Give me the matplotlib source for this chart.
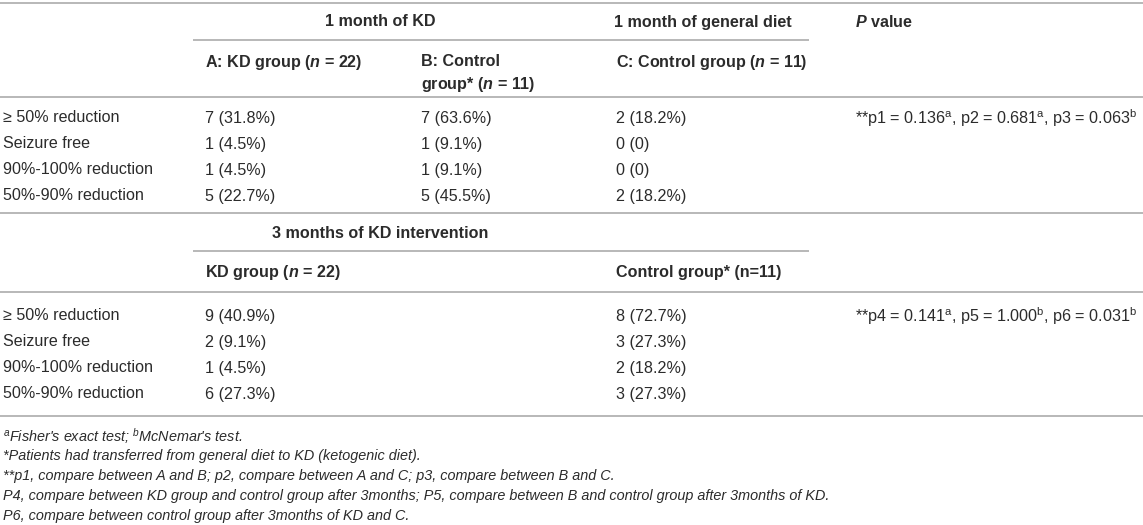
import matplotlib
matplotlib.use("Agg")
import matplotlib.pyplot as plt

plt.rcParams['font.family'] = ['Liberation Sans', 'DejaVu Sans']
plt.rcParams['mathtext.fontset'] = 'custom'
plt.rcParams['mathtext.rm'] = 'Liberation Sans'
plt.rcParams['mathtext.it'] = 'Liberation Sans:italic'
plt.rcParams['mathtext.bf'] = 'Liberation Sans:bold'
plt.rcParams['mathtext.bfit'] = 'Liberation Sans:italic:bold'

# Table content
row_labels = ["≥ 50% reduction", "Seizure free", "90%-100% reduction", "50%-90% reduction"]
kd1_a = ["7 (31.8%)", "1 (4.5%)", "1 (4.5%)", "5 (22.7%)"]
kd1_b = ["7 (63.6%)", "1 (9.1%)", "1 (9.1%)", "5 (45.5%)"]
gen1_c = ["2 (18.2%)", "0 (0)", "0 (0)", "2 (18.2%)"]
kd3_kd = ["9 (40.9%)", "2 (9.1%)", "1 (4.5%)", "6 (27.3%)"]
kd3_ctrl = ["8 (72.7%)", "3 (27.3%)", "2 (18.2%)", "3 (27.3%)"]

p_block1 = r"**p1 = 0.136$^{\rm a}$, p2 = 0.681$^{\rm a}$, p3 = 0.063$^{\rm b}$"
p_block2 = r"**p4 = 0.141$^{\rm a}$, p5 = 1.000$^{\rm b}$, p6 = 0.031$^{\rm b}$"

footnotes = [
    r"$^{a}$Fisher's exact test; $^{b}$McNemar's test.",
    "*Patients had transferred from general diet to KD (ketogenic diet).",
    "**p1, compare between A and B; p2, compare between A and C; p3, compare between B and C.",
    "P4, compare between KD group and control group after 3months; P5, compare between B and control group after 3months of KD.",
    "P6, compare between control group after 3months of KD and C.",
]

TXT = "#2b2b2b"
LINE = "#b8b8b8"
FS = 11.6

fig = plt.figure(figsize=(11.43, 5.25), dpi=100)
ax = fig.add_axes([0, 0, 1, 1])
ax.set_xlim(0, 1143)
ax.set_ylim(525, 0)
ax.axis("off")

# column x positions (pixels)
x_lab, x_a, x_b, x_c, x_p = 3, 205, 421, 616, 855


def txt(x, y, s, bold=False, ha="left", italic=False, size=FS):
    ax.text(x, y, s, ha=ha, va="center", color=TXT, fontsize=size,
            fontweight="bold" if bold else "normal",
            fontstyle="italic" if italic else "normal")


def hline(y, x0=0, x1=1143):
    ax.plot([x0, x1], [y, y], color=LINE, lw=1.4, solid_capstyle="butt")


# ---- block 1 ----
hline(3)
txt(380, 22, "1 month of KD", bold=True, ha="center")
txt(703, 22, "1 month of general diet", bold=True, ha="center")
txt(x_p, 22, r"$\mathbfit{P}$ value", bold=True)
hline(40, 193, 809)
txt(x_a, 62, r"A: KD group ($\mathbfit{n}$ = 22)", bold=True)
txt(x_b, 62, "B: Control", bold=True)
txt(x_b, 85, r"group* ($\mathbfit{n}$ = 11)", bold=True)
txt(x_c, 62, r"C: Control group ($\mathbfit{n}$ = 11)", bold=True)
hline(97)

rows1_y = [118, 144, 170, 196]
for i, y in enumerate(rows1_y):
    txt(x_lab, y, row_labels[i])
    txt(x_a, y, kd1_a[i])
    txt(x_b, y, kd1_b[i])
    txt(x_c, y, gen1_c[i])
txt(x_p, rows1_y[0], p_block1)
hline(213)

# ---- block 2 ----
txt(380, 233, "3 months of KD intervention", bold=True, ha="center")
hline(251, 193, 809)
txt(x_a, 272, r"KD group ($\mathbfit{n}$ = 22)", bold=True)
txt(x_c, 272, "Control group* (n=11)", bold=True)
hline(292)

rows2_y = [316, 342, 368, 394]
for i, y in enumerate(rows2_y):
    txt(x_lab, y, row_labels[i])
    txt(x_a, y, kd3_kd[i])
    txt(x_c, y, kd3_ctrl[i])
txt(x_p, rows2_y[0], p_block2)
hline(416)

# ---- footnotes ----
for i, s in enumerate(footnotes):
    txt(x_lab, 436 + 20 * i, s, italic=True, size=10.4)

fig.savefig("out.png", dpi=100)
